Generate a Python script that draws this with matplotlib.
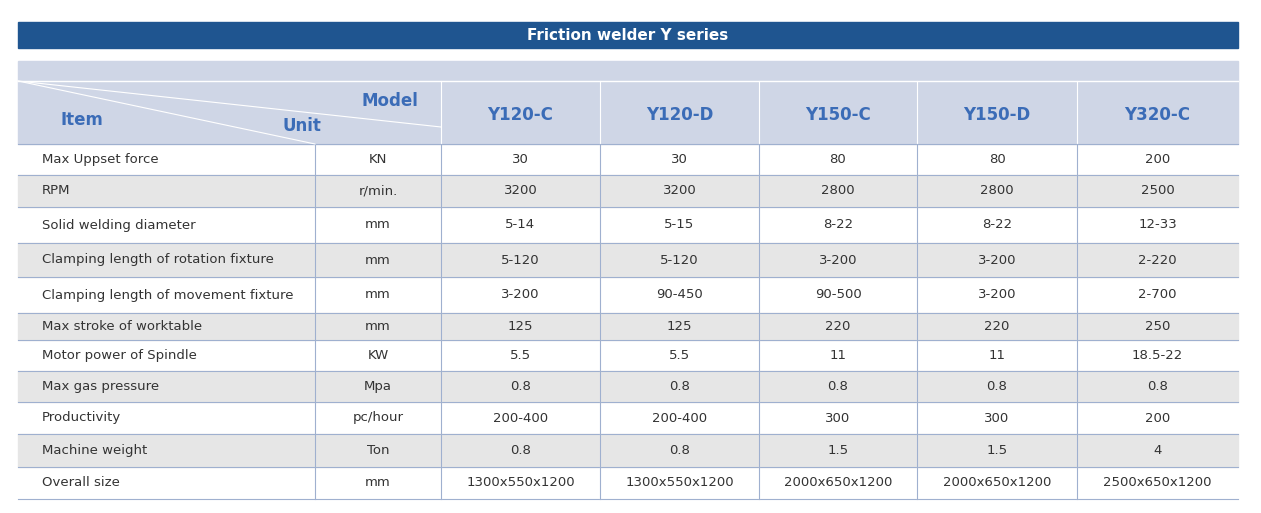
import matplotlib
matplotlib.use("Agg")
import matplotlib.pyplot as plt
from matplotlib.patches import Rectangle

title = "Friction welder Y series"
models = ["Y120-C", "Y120-D", "Y150-C", "Y150-D", "Y320-C"]
items = ["Max Uppset force", "RPM", "Solid welding diameter", "Clamping length of rotation fixture",
         "Clamping length of movement fixture", "Max stroke of worktable", "Motor power of Spindle",
         "Max gas pressure", "Productivity", "Machine weight", "Overall size"]
units = ["KN", "r/min.", "mm", "mm", "mm", "mm", "KW", "Mpa", "pc/hour", "Ton", "mm"]
y120c = ["30", "3200", "5-14", "5-120", "3-200", "125", "5.5", "0.8", "200-400", "0.8", "1300x550x1200"]
y120d = ["30", "3200", "5-15", "5-120", "90-450", "125", "5.5", "0.8", "200-400", "0.8", "1300x550x1200"]
y150c = ["80", "2800", "8-22", "3-200", "90-500", "220", "11", "0.8", "300", "1.5", "2000x650x1200"]
y150d = ["80", "2800", "8-22", "3-200", "3-200", "220", "11", "0.8", "300", "1.5", "2000x650x1200"]
y320c = ["200", "2500", "12-33", "2-220", "2-700", "250", "18.5-22", "0.8", "200", "4", "2500x650x1200"]
values = [y120c, y120d, y150c, y150d, y320c]

W, H = 1261, 513
fig = plt.figure(figsize=(W/100, H/100), dpi=100)
ax = fig.add_axes([0, 0, 1, 1])
ax.set_xlim(0, W); ax.set_ylim(H, 0); ax.axis("off")

L, R = 18, 1238
blue = "#1f5590"; hblue = "#3b6cb7"; band = "#cfd6e6"; gray = "#e6e6e6"; line = "#9fb0cf"; txt = "#333333"
ax.add_patch(Rectangle((L, 22), R-L, 26, color=blue))
ax.text((L+R)/2, 36, title, color="white", fontsize=11, fontweight="bold", ha="center", va="center")
ax.add_patch(Rectangle((L, 61), R-L, 83, color=band))
ax.plot([L, R], [81, 81], color="white", lw=1)

colx = [L, 315, 441, 600, 759, 917, 1077, R]
rowy = [144, 175, 207, 243, 277, 313, 340, 371, 402, 434, 467, 499]
for i in range(len(items)):
    y0, y1 = rowy[i], rowy[i+1]
    if i % 2 == 1:
        ax.add_patch(Rectangle((L, y0), R-L, y1-y0, color=gray))
    yc = (y0+y1)/2
    ax.text(42, yc, items[i], fontsize=9.5, color=txt, va="center", ha="left")
    ax.text((colx[1]+colx[2])/2, yc, units[i], fontsize=9.5, color=txt, va="center", ha="center")
    for j, col in enumerate(values):
        ax.text((colx[j+2]+colx[j+3])/2, yc, col[i], fontsize=9.5, color=txt, va="center", ha="center")
for y in rowy:
    ax.plot([L, R], [y, y], color=line, lw=0.8)
for x in colx[1:-1]:
    top = 144 if x == 315 else 81
    ax.plot([x, x], [top, 499], color=line if top == 144 else "white", lw=0.8)
    if top == 81:
        ax.plot([x, x], [144, 499], color=line, lw=0.8)
# diagonals
ax.plot([L, 441], [81, 127], color="white", lw=0.8)
ax.plot([L, 315], [81, 144], color="white", lw=0.8)
ax.text(82, 120, "Item", color=hblue, fontsize=12, fontweight="bold", ha="center", va="center")
ax.text(302, 126, "Unit", color=hblue, fontsize=12, fontweight="bold", ha="center", va="center")
ax.text(390, 101, "Model", color=hblue, fontsize=12, fontweight="bold", ha="center", va="center")
for j, m in enumerate(models):
    ax.text((colx[j+2]+colx[j+3])/2, 115, m, color=hblue, fontsize=12, fontweight="bold", ha="center", va="center")
fig.savefig("out.png", dpi=100)
